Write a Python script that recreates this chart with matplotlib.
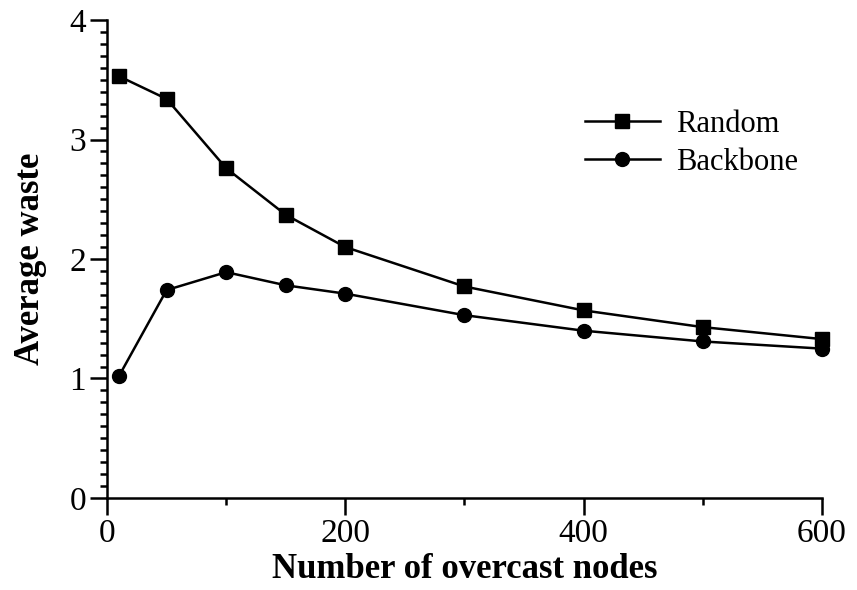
import matplotlib.pyplot as plt
from matplotlib.ticker import MultipleLocator

plt.rcParams['font.family'] = ['Liberation Serif', 'DejaVu Serif']

nodes = [10, 50, 100, 150, 200, 300, 400, 500, 600]
random_waste = [3.53, 3.34, 2.76, 2.37, 2.10, 1.77, 1.57, 1.43, 1.33]
backbone_waste = [1.02, 1.74, 1.89, 1.78, 1.71, 1.53, 1.40, 1.31, 1.25]

fig = plt.figure(figsize=(8.57, 5.9), dpi=100)
ax = fig.add_axes([0.1249, 0.156, 0.834, 0.81])

ax.plot(nodes, random_waste, color='black', lw=1.8, marker='s', ms=10.5, label='Random', clip_on=False)
ax.plot(nodes, backbone_waste, color='black', lw=1.8, marker='o', ms=10, label='Backbone', clip_on=False)

ax.set_xlim(0, 600)
ax.set_ylim(0, 4)
ax.xaxis.set_major_locator(MultipleLocator(200))
ax.xaxis.set_minor_locator(MultipleLocator(100))
ax.yaxis.set_major_locator(MultipleLocator(1))
ax.yaxis.set_minor_locator(MultipleLocator(0.1))

for s in ['top', 'right']:
    ax.spines[s].set_visible(False)
for s in ['left', 'bottom']:
    ax.spines[s].set_linewidth(1.8)

ax.tick_params(which='major', direction='out', length=12, width=1.8, labelsize=24, pad=3)
ax.tick_params(which='minor', direction='out', length=5, width=1.8)

ax.set_xlabel('Number of overcast nodes', fontsize=25, fontweight='bold', labelpad=3)
ax.set_ylabel('Average waste', fontsize=25, fontweight='bold', labelpad=16)

ax.legend(loc='upper left', bbox_to_anchor=(0.63, 0.87), frameon=False, fontsize=22,
          handlelength=2.45, handletextpad=0.55, labelspacing=0.3)

fig.savefig('out.png', dpi=100)
